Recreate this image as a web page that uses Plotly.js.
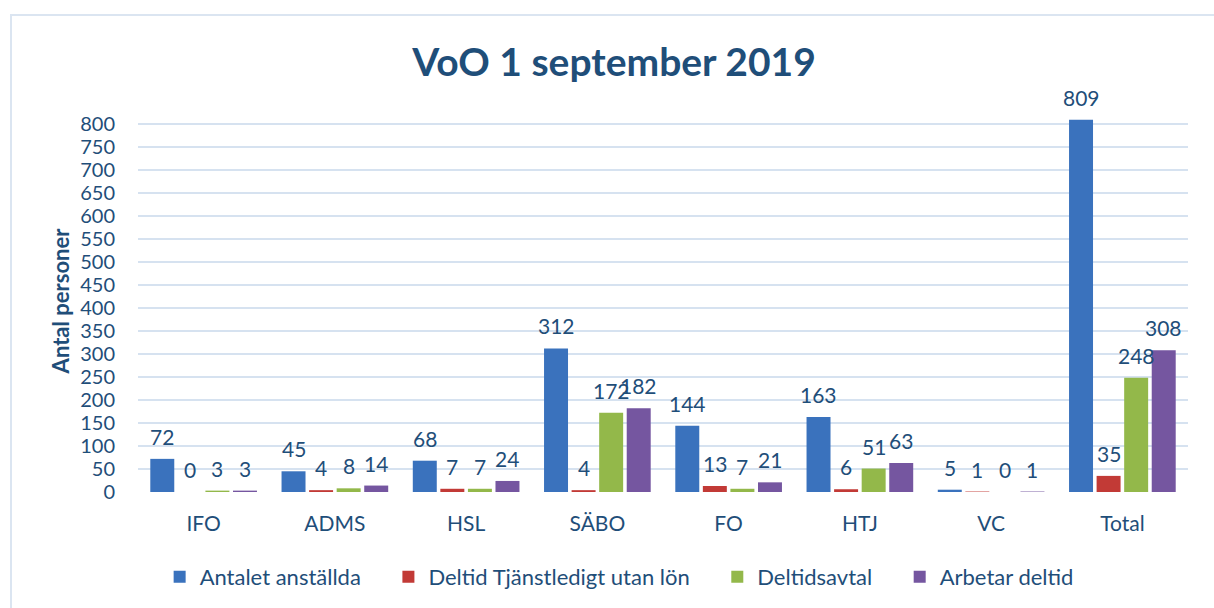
<!DOCTYPE html>
<html>
<head>
<meta charset="utf-8">
<script src="https://cdn.plot.ly/plotly-3.0.1.min.js"></script>
<style>
  html, body { margin: 0; padding: 0; background: #ffffff; }
  #frame { position: absolute; left: 10px; top: 14px; width: 1400px; height: 800px; border: 2px solid #dbe5f1; box-sizing: border-box; }
  #chart { position: absolute; left: 0; top: 0; width: 1214px; height: 608px; }
</style>
</head>
<body>
<div id="frame"></div>
<div id="chart"></div>
<script>
const categories = ["IFO", "ADMS", "HSL", "SÄBO", "FO", "HTJ", "VC", "Total"];
const seriesNames = ["Antalet anställda", "Deltid Tjänstledigt utan lön", "Deltidsavtal", "Arbetar deltid"];
const antaletAnstallda = [72, 45, 68, 312, 144, 163, 5, 809];
const deltidTjanstledigt = [0, 4, 7, 4, 13, 6, 1, 35];
const deltidsavtal = [3, 8, 7, 172, 7, 51, 0, 248];
const arbetarDeltid = [3, 14, 24, 182, 21, 63, 1, 308];
const yTicks = [0, 50, 100, 150, 200, 250, 300, 350, 400, 450, 500, 550, 600, 650, 700, 750, 800];

const seriesValues = [antaletAnstallda, deltidTjanstledigt, deltidsavtal, arbetarDeltid];
const colors = ["#3a72bd", "#c23a36", "#93b84a", "#7556a0"];
const textColor = "#1f4e79";
const font = "Lato, 'Open Sans', sans-serif";
const bargap = 0.16;
const bargroupgap = 0.13;
const legendPad = "\u00a0\u00a0\u00a0\u00a0";

const traces = seriesValues.map((vals, k) => ({
  type: "bar",
  name: seriesNames[k] + (k < seriesValues.length - 1 ? legendPad : ""),
  x: categories,
  y: vals,
  marker: { color: colors[k] },
  hoverinfo: "skip"
}));

// data labels above each bar, positioned on the category serial-number scale
const annotations = [];
const nS = seriesValues.length;
const slot = (1 - bargap) / nS;
seriesValues.forEach((vals, k) => {
  vals.forEach((v, i) => {
    annotations.push({
      x: i - (1 - bargap) / 2 + (k + 0.5) * slot,
      y: v,
      xref: "x", yref: "y",
      text: String(v),
      showarrow: false,
      yanchor: "bottom",
      yshift: 8,
      font: { family: font, size: 21, color: textColor }
    });
  });
});

const layout = {
  width: 1214, height: 608,
  paper_bgcolor: "rgba(0,0,0,0)",
  plot_bgcolor: "rgba(0,0,0,0)",
  margin: { l: 138, r: 26, t: 110, b: 116 },
  barmode: "group",
  bargap: bargap,
  bargroupgap: bargroupgap,
  title: {
    text: "<b>VoO 1 september 2019</b>",
    font: { family: font, size: 39, color: textColor },
    x: 614 / 1214, xanchor: "center", xref: "container", y: 1 - 62 / 608, yref: "container", yanchor: "middle"
  },
  xaxis: {
    type: "category",
    showgrid: false, zeroline: false, showline: false,
    ticks: "",
    ticklabelstandoff: 17,
    tickfont: { family: font, size: 21, color: textColor }
  },
  yaxis: {
    range: [0, 830],
    tickvals: yTicks,
    ticktext: yTicks.map(String),
    showgrid: true, gridcolor: "#d6e2f0", gridwidth: 2,
    zeroline: false, showline: false,
    ticks: "",
    ticklabelstandoff: 22,
    tickfont: { family: font, size: 20, color: textColor },
    title: { text: "<b>Antal personer</b>", font: { family: font, size: 22, color: textColor }, standoff: 4 }
  },
  legend: {
    orientation: "h",
    xref: "container", yref: "container",
    x: 0.51, xanchor: "center",
    y: 1 - 577 / 608, yanchor: "middle",
    font: { family: font, size: 22, color: textColor },
    itemclick: false, itemdoubleclick: false
  },
  annotations: annotations,
  showlegend: true
};

Plotly.newPlot("chart", traces, layout, { displayModeBar: false, staticPlot: true });
</script>
</body>
</html>
